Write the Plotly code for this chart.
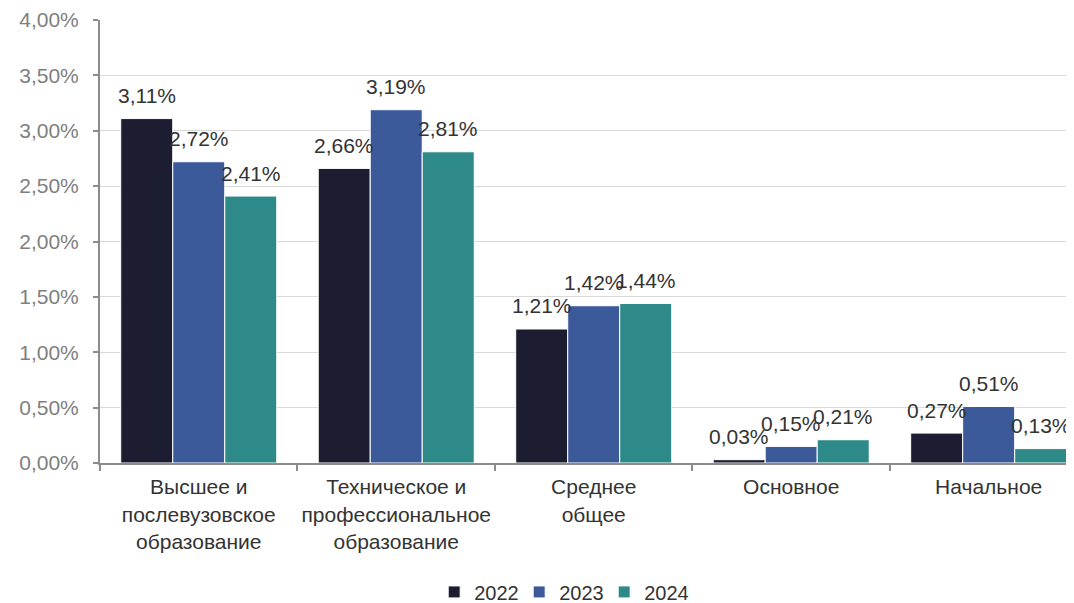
import plotly.graph_objects as go

categories = ["Высшее и<br>послевузовское<br>образование",
              "Техническое и<br>профессиональное<br>образование",
              "Среднее<br>общее",
              "Основное",
              "Начальное"]
years = ["2022", "2023", "2024"]
values_2022 = [3.11, 2.66, 1.21, 0.03, 0.27]
values_2023 = [2.72, 3.19, 1.42, 0.15, 0.51]
values_2024 = [2.41, 2.81, 1.44, 0.21, 0.13]
series = [values_2022, values_2023, values_2024]
colors = ["#1c1d31", "#3c5a99", "#2d8a88"]
y_ticks = [0, 0.5, 1.0, 1.5, 2.0, 2.5, 3.0, 3.5, 4.0]

FONT = "Liberation Sans, Arial, sans-serif"

def fmt(v):
    return f"{v:.2f}".replace(".", ",") + "%"

fig = go.Figure()
for name, vals, col in zip(years, series, colors):
    fig.add_trace(go.Bar(x=categories, y=vals, name=name,
                         marker=dict(color=col, line=dict(color="white", width=1)),
                         hoverinfo="skip"))

# data labels above bars
bar_px = 52
for i, vals in enumerate(series):
    for c, v in zip(categories, vals):
        fig.add_annotation(x=c, y=v, text=fmt(v), showarrow=False,
                           xshift=(i - 1) * bar_px, yshift=23, yanchor="middle",
                           font=dict(family=FONT, size=21, color="#333333"))

# page body has an 8px margin: figure is 1066x595 and placed at (8, 8)
fig.update_layout(
    width=1066, height=595,
    margin=dict(l=92, r=0, t=12, b=140, autoexpand=False),
    plot_bgcolor="white", paper_bgcolor="white",
    barmode="group", bargap=0.21, bargroupgap=0,
    font=dict(family=FONT, size=21, color="#333333"),
    showlegend=True,
    legend=dict(orientation="h", x=0.474, xanchor="center", y=-0.291, yanchor="middle",
                font=dict(family=FONT, size=20, color="#333333"),
                itemwidth=30, entrywidth=40, entrywidthmode="pixels", tracegroupgap=0),
    xaxis=dict(range=[-0.5, 4.432], showline=True, linecolor="#8c8c8c", linewidth=2,
               ticks="outside", tickson="boundaries", ticklen=6, tickcolor="#8c8c8c",
               tickwidth=2, showgrid=False, automargin=False, ticklabelstandoff=4,
               tickangle=0,
               tickfont=dict(family=FONT, size=21, color="#333333")),
    yaxis=dict(range=[0, 4], tickvals=y_ticks,
               ticktext=[fmt(t) for t in y_ticks],
               showline=True, linecolor="#8c8c8c", linewidth=2,
               ticks="outside", ticklen=5, tickcolor="#8c8c8c", tickwidth=2,
               showgrid=True, gridcolor="#d9d9d9", gridwidth=1, zeroline=False,
               ticklabelstandoff=10, automargin=False,
               tickfont=dict(family=FONT, size=21, color="#7f7f7f")),
)

fig.write_html("out.html")
